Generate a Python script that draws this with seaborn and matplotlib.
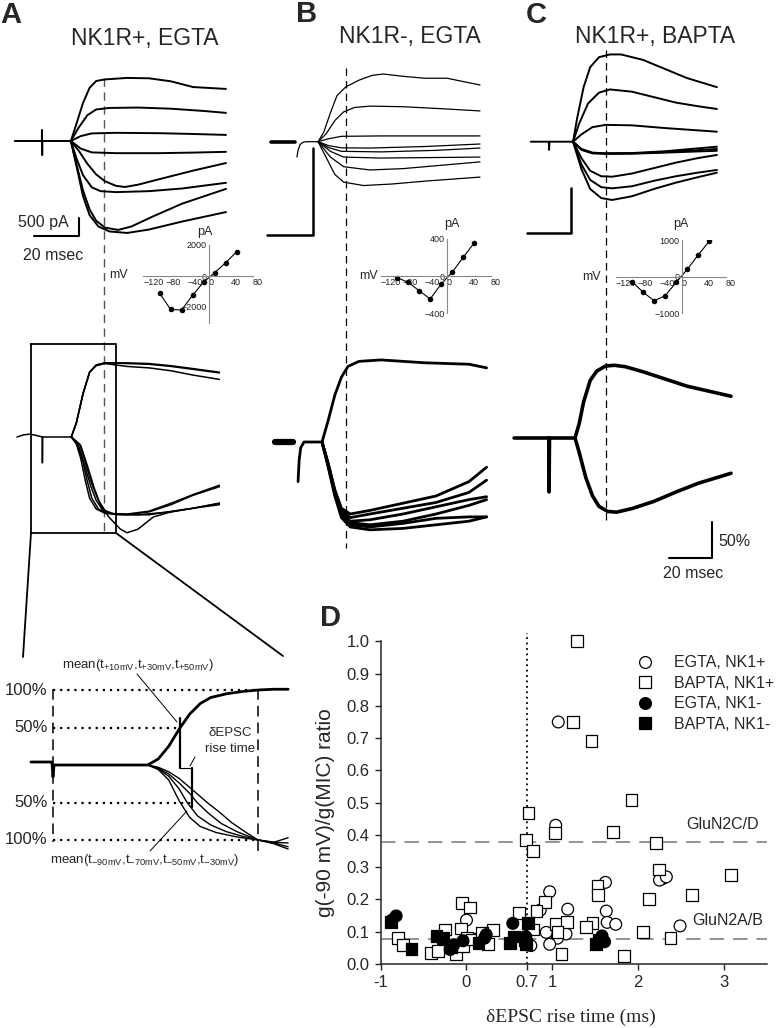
import matplotlib.pyplot as plt
import pandas as pd
import seaborn as sns
from matplotlib.lines import Line2D

W, H = 780, 1028
MS = 2.2  # px per ms in the trace panels

# ---------------- A: NK1R+, EGTA (pA) ----------------
a_top_traces = [
    [(-1, 0), (11.3, 0), (11.35, 290), (11.45, -370), (11.5, 0), (24.5, 0)],
    [(24.5, 0), (27, 450), (30, 1000), (33, 1400), (36, 1580), (40, 1620), (50, 1660), (60, 1650), (70, 1570), (80, 1420), (95, 1370)],
    [(24.5, 0), (28, 350), (32, 680), (36, 830), (42, 870), (55, 880), (70, 850), (85, 790), (95, 740)],
    [(24.5, 0), (29, 130), (34, 200), (45, 215), (65, 205), (80, 185), (95, 160)],
    [(24.5, 0), (29, -200), (34, -300), (45, -320), (65, -320), (80, -305), (95, -285)],
    [(24.5, 0), (28, -250), (32, -600), (36, -880), (40, -1060), (45, -1180), (49, -1210), (55, -1150), (65, -1000), (80, -780), (95, -580)],
    [(24.5, 0), (27, -450), (30, -900), (34, -1220), (38, -1320), (45, -1345), (60, -1320), (75, -1250), (95, -1100)],
    [(24.5, 0), (27, -600), (30, -1300), (33, -1800), (36, -2100), (40, -2280), (46, -2340), (52, -2250), (62, -1980), (75, -1650), (95, -1260)],
    [(24.5, 0), (27, -650), (30, -1450), (33, -1950), (37, -2250), (42, -2380), (50, -2420), (60, -2330), (75, -2120), (95, -1870)],
]
a_mid_traces = [
    [(0, 0), (3, 3), (6, 4), (9, 2), (11.5, 0), (11.55, -36), (11.65, 0), (24.7, 0)],
    [(24.7, 0), (27, 20), (30, 60), (33, 90), (36, 100), (40, 103), (50, 103), (60, 102), (70, 99), (80, 95), (92, 90)],
    [(24.7, 0), (27, 20), (30, 60), (33, 90), (36, 100), (40, 103), (50, 102), (60, 101), (70, 98), (80, 94), (92, 89)],
    [(24.7, 0), (27, 20), (30, 60), (33, 90), (36, 99), (40, 102), (50, 98), (60, 96), (70, 92), (80, 86), (92, 80)],
    [(24.7, 0), (27, -10), (29, -30), (31, -60), (33, -85), (36, -100), (40, -106), (50, -107), (60, -103), (70, -92), (80, -80), (92, -67)],
    [(24.7, 0), (27.5, -10), (30, -35), (32, -62), (34, -85), (37, -100), (41, -106), (50, -108), (60, -104), (70, -94), (80, -81), (92, -69)],
    [(24.7, 0), (28, -12), (31, -42), (33.5, -68), (36, -88), (39, -102), (43, -107), (55, -108), (70, -104), (80, -99), (92, -92)],
    [(24.7, 0), (28.5, -10), (31.5, -40), (34, -65), (37, -88), (40, -102), (45, -108), (60, -108), (75, -101), (92, -94)],
    [(24.7, 0), (29, -12), (32, -40), (35, -70), (38, -95), (42, -112), (47, -128), (50, -133), (55, -128), (62, -111), (70, -104), (80, -99), (92, -92)],
]
a_iv_mv = [-90, -70, -50, -30, -10, 10, 30, 50]
a_iv_pa = [-1100, -2150, -2200, -1250, -400, 200, 850, 1550]

# ---------------- B: NK1R-, EGTA ----------------
b_top_pre = [[(0, 0), (10.9, 0)]]
b_top_traces = [
    [(11.8, -80), (12.3, -45), (13.2, -15), (14.5, -3), (16, 0), (21.4, 0)],
    [(21.4, 0), (24, 50), (27, 150), (30, 240), (34, 285), (40, 320), (46, 345), (51, 352), (60, 340), (70, 330), (80, 330), (95, 295)],
    [(21.4, 0), (25, 40), (29, 110), (33, 155), (38, 178), (45, 185), (60, 182), (80, 170), (95, 160)],
    [(21.4, 0), (26, 15), (32, 28), (50, 30), (95, 30)],
    [(21.4, 0), (26, -20), (32, -32), (45, -33), (70, -25), (95, -12)],
    [(21.4, 0), (26, -30), (32, -50), (50, -53), (75, -45), (95, -33)],
    [(21.4, 0), (27, -50), (33, -80), (50, -85), (95, -80)],
    [(21.4, 0), (27, -80), (33, -130), (45, -147), (60, -140), (80, -120), (95, -105)],
    [(21.4, 0), (25, -80), (29, -170), (33, -210), (42, -228), (55, -220), (70, -205), (95, -184)],
]
b_mid_pre = [[(1.8, 0), (10, 0)]]
b_mid_traces = [
    [(12.3, -55), (12.8, -25), (13.5, -8), (15, 0), (23.2, 0)],
    [(23.2, 0), (26, 30), (29, 65), (32, 90), (35, 105), (40, 112), (50, 114), (60, 112), (70, 110), (80, 109), (90, 108), (98, 103)],
    [(23.2, 0), (26, -35), (29, -75), (32, -105), (36, -118), (45, -122), (60, -120), (75, -115), (90, -110), (98, -104)],
    [(23.2, 0), (26, -33), (29, -72), (32, -100), (36, -115), (45, -118), (60, -113), (75, -106), (90, -104), (98, -104)],
    [(23.2, 0), (26, -32), (29, -70), (32, -98), (36, -110), (45, -108), (60, -100), (75, -90), (90, -80), (98, -76)],
    [(23.2, 0), (26, -30), (29, -68), (32, -95), (36, -105), (45, -100), (60, -92), (75, -84), (90, -70), (98, -53)],
    [(23.2, 0), (26, -30), (29, -66), (32, -92), (36, -100), (45, -95), (60, -85), (75, -75), (90, -55), (98, -35)],
    [(23.2, 0), (26, -32), (29, -70), (32, -98), (36, -112), (45, -115), (60, -110), (75, -100), (90, -88), (98, -80)],
]
b_iv_mv = [-90, -70, -50, -30, -10, 10, 30, 50]
b_iv_pa = [-18, -67, -157, -245, -85, 40, 200, 352]

# ---------------- C: NK1R+, BAPTA ----------------
c_top_traces = [
    [(-1, 0), (7.2, 0), (7.3, -90), (7.5, 0), (18.2, 0)],
    [(18.2, 0), (20, 250), (23, 600), (26, 820), (30, 930), (35, 960), (40, 960), (50, 900), (60, 800), (70, 700), (83.6, 600)],
    [(18.2, 0), (21, 200), (25, 420), (30, 540), (35, 575), (45, 550), (55, 490), (65, 430), (75, 390), (83.6, 360)],
    [(18.2, 0), (22, 80), (27, 160), (33, 185), (45, 180), (60, 150), (83.6, 110)],
    [(18.2, 0), (22, -80), (27, -120), (33, -128), (45, -125), (60, -105), (83.6, -55)],
    [(18.2, 0), (22, -85), (27, -125), (33, -130), (45, -128), (60, -115), (83.6, -80)],
    [(18.2, 0), (22, -90), (27, -128), (33, -133), (45, -132), (60, -120), (83.6, -100)],
    [(18.2, 0), (22, -180), (26, -320), (31, -380), (36, -385), (45, -350), (55, -290), (65, -230), (75, -180), (83.6, -146)],
    [(18.2, 0), (22, -250), (26, -420), (31, -500), (36, -513), (45, -490), (55, -430), (65, -380), (75, -340), (83.6, -311)],
    [(18.2, 0), (22, -300), (26, -520), (31, -620), (36, -641), (45, -600), (55, -520), (65, -450), (75, -390), (83.6, -341)],
]
c_mid_traces = [
    [(-8.6, 0), (7.2, 0), (7.3, -75), (7.5, 0), (19.1, 0)],
    [(19.1, 0), (21, 20), (23, 50), (26, 80), (29, 93), (33, 100), (37, 101), (42, 99), (50, 92), (60, 82), (70, 72), (80, 65), (90, 58)],
    [(19.1, 0), (21, -20), (24, -55), (27, -80), (30, -95), (34, -102), (38, -103), (45, -98), (55, -88), (65, -75), (75, -63), (90, -49)],
]
c_iv_mv = [-90, -70, -50, -30, -10, 10, 30, 50]
c_iv_pa = [-137, -428, -657, -520, -155, 200, 595, 970]

# ---------------- zoomed schematic (%) ----------------
sch_up = [[(-4.2, 4), (-0.2, 4), (0, -16), (0.2, 0), (18, 0), (20, 8), (22, 25), (24, 48), (26, 68), (28, 82), (30, 90), (33, 95), (36, 98), (39, 100), (42, 101), (44.7, 101)]]
sch_down = [
    [(0.2, 0), (18, 0), (20, -6), (22, -20), (24, -48), (26, -70), (28, -82), (31, -90), (35, -96), (39, -100), (42, -103), (44.7, -97)],
    [(18, 0), (20, -5), (22, -15), (24, -32), (25.5, -50), (27.5, -68), (30, -80), (33, -89), (36, -95), (39, -100), (42, -103), (44.7, -104)],
    [(18, 0), (20, -4), (22, -12), (24, -24), (26, -38), (27.4, -50), (29.5, -64), (32, -78), (35, -89), (39, -100), (42, -104), (44.7, -109)],
    [(18, 0), (20, -3), (22, -9), (24, -18), (26, -30), (28, -42), (29.3, -50), (31.5, -62), (34, -77), (36.5, -89), (39, -100), (42, -105), (44.7, -112)],
]

# ---------------- D: scatter ----------------
egta_pos_rise = [1.07, 1.04, 2.29, 2.25, 2.33, 1.62, 0.97, 1.18, 1.63, 0.86, 2.49, 1.64, 1.74, 0.93, 1.16, 1.06, 0.97, 0.75, 0.00, 0.12]
egta_pos_ratio = [0.75, 0.43, 0.265, 0.26, 0.27, 0.253, 0.224, 0.17, 0.164, 0.167, 0.118, 0.129, 0.123, 0.098, 0.093, 0.08, 0.061, 0.057, 0.136, 0.077]
bapta_pos_rise = [1.29, 1.245, 1.458, 1.924, 0.724, 1.031, 1.711, 0.693, 2.208, 0.779, 2.247, 3.082, 1.528, 1.536, 2.627,
                  2.130, -0.049, 0.041, 0.915, 0.612, 0.817, 0.779, 1.043, 1.175, 1.470, 1.392, 1.062, 2.060, 2.379, 1.839,
                  1.109, -0.250, 0.305, -0.068, 0.002, -0.794, -0.744, -0.414, -0.336, -0.122, -0.045, 0.06, 0.254, 0.177]
bapta_pos_ratio = [1.0, 0.75, 0.69, 0.508, 0.467, 0.407, 0.408, 0.384, 0.376, 0.351, 0.293, 0.276, 0.242, 0.214, 0.214,
                   0.201, 0.188, 0.175, 0.193, 0.159, 0.165, 0.107, 0.124, 0.130, 0.126, 0.114, 0.098, 0.098, 0.080, 0.026,
                   0.031, 0.107, 0.105, 0.110, 0.080, 0.080, 0.059, 0.033, 0.041, 0.031, 0.056, 0.076, 0.062, 0.095]
egta_neg_rise = [-0.82, -0.87, 0.23, 0.21, 0.54, 0.69, -0.04, -0.15, -0.19, 1.58, 1.61, 1.56]
egta_neg_ratio = [0.149, 0.136, 0.091, 0.080, 0.126, 0.085, 0.072, 0.059, 0.045, 0.087, 0.069, 0.074]
bapta_neg_rise = [-0.88, -0.64, -0.35, -0.27, -0.18, 0.14, 0.51, 0.55, 0.72, 0.68, 0.69, 1.51, 1.54]
bapta_neg_ratio = [0.131, 0.046, 0.087, 0.080, 0.051, 0.064, 0.066, 0.085, 0.126, 0.074, 0.062, 0.062, 0.074]
groups = ["EGTA, NK1+", "BAPTA, NK1+", "EGTA, NK1-", "BAPTA, NK1-"]
x_ticks = [-1, 0, 0.7, 1, 2, 3]
y_ticks = [0.0, 0.1, 0.2, 0.3, 0.4, 0.5, 0.6, 0.7, 0.8, 0.9, 1.0]
glun_2cd, glun_2ab, rise_cut = 0.378, 0.078, 0.7

sns.set_style("ticks")
plt.rcParams["font.family"] = ["Liberation Sans", "DejaVu Sans"]

fig = plt.figure(figsize=(W / 100, H / 100), dpi=100)
ov = fig.add_axes([0, 0, 1, 1])
ov.set_xlim(0, W)
ov.set_ylim(H, 0)
ov.axis("off")


def px_axes(x0, x1, y0, y1):
    return fig.add_axes([x0 / W, 1 - y1 / H, (x1 - x0) / W, (y1 - y0) / H])


def trace_axes(x_origin, t_lim, y_base, px_per_unit, v_lim, px_per_ms=MS):
    ax = px_axes(x_origin + px_per_ms * t_lim[0], x_origin + px_per_ms * t_lim[1],
                 y_base - px_per_unit * v_lim[1], y_base - px_per_unit * v_lim[0])
    ax.set_xlim(t_lim)
    ax.set_ylim(v_lim)
    ax.axis("off")
    return ax


def long_df(traces):
    rows = [(i, t, v) for i, tr in enumerate(traces) for t, v in tr]
    return pd.DataFrame(rows, columns=["trace", "t", "v"])


def draw_traces(ax, traces, lw):
    sns.lineplot(data=long_df(traces), x="t", y="v", units="trace", estimator=None, sort=False,
                 color="black", lw=lw, ax=ax, legend=False)


def iv_axes(x_zero, y_zero, px_per_pa, pa_lim, mv, pa, yt):
    ax = px_axes(x_zero - 0.55 * 120, x_zero + 0.55 * 80, y_zero - px_per_pa * pa_lim[1], y_zero - px_per_pa * pa_lim[0])
    ax.set_facecolor("none")
    sns.lineplot(x=mv, y=pa, color="black", lw=0.8, marker="o", markersize=4, markeredgewidth=0, ax=ax)
    ax.set_xlim(-120, 80)
    ax.set_ylim(pa_lim)
    for side in ["top", "right"]:
        ax.spines[side].set_visible(False)
    for side in ["left", "bottom"]:
        ax.spines[side].set_position(("data", 0))
        ax.spines[side].set_color("#888888")
        ax.spines[side].set_linewidth(0.8)
    ax.set_xticks([-120, -80, -40, 0, 40, 80])
    ax.set_yticks(yt)
    ax.tick_params(length=0, labelsize=6.5, pad=1.5, colors="#222222")
    for lab in ax.get_xticklabels():
        lab.set_horizontalalignment("left")
    ax.set_xlabel("")
    ax.set_ylabel("")
    return ax


# ---- trace panels ----
ax = trace_axes(17, (-2, 100), 141, 0.038, (-2700, 2300))
draw_traces(ax, a_top_traces, 1.4)
ax = trace_axes(17, (-2, 100), 437, 0.72, (-150, 120))
draw_traces(ax, a_mid_traces, 1.1)

ax = trace_axes(271, (-2, 100), 141.7, 0.1923, (-300, 400))
draw_traces(ax, b_top_pre, 2.6)
draw_traces(ax, b_top_traces, 0.9)
ax = trace_axes(271, (-2, 100), 442, 0.72, (-150, 130))
draw_traces(ax, b_mid_pre, 4.5)
draw_traces(ax, b_mid_traces, 2.0)

ax = trace_axes(533, (-10, 100), 141.7, 0.0909, (-800, 1100))
draw_traces(ax, c_top_traces, 1.4)
ax = trace_axes(533, (-10, 100), 438, 0.72, (-120, 120))
draw_traces(ax, c_mid_traces, 2.6)

iv_axes(209, 276, 0.0155, (-3000, 2000), a_iv_mv, a_iv_pa, [-2000, 0, 2000])
iv_axes(446.7, 276, 0.09375, (-400, 400), b_iv_mv, b_iv_pa, [-400, 0, 400])
iv_axes(681.7, 276.7, 0.0365, (-1000, 1000), c_iv_mv, c_iv_pa, [-1000, 0, 1000])
for x, y in [(118, 275), (368, 276), (591, 277)]:
    ov.text(x, y, "mV", ha="center", va="center", fontsize=9)
for x, y in [(205, 232), (452, 224), (681, 224)]:
    ov.text(x, y, "pA", ha="center", va="center", fontsize=9)

# ---- zoomed schematic ----
sx = trace_axes(53, (-6, 46), 765, 0.75, (-125, 112), px_per_ms=5.26)
draw_traces(sx, sch_up, 2.0)
draw_traces(sx, sch_down, 1.0)
for lvl, t_end in [(100, 39), (50, 24.1), (-50, 26.4), (-100, 39)]:
    sx.plot([0, t_end], [lvl, lvl], color="black", ls=(0, (1, 2.2)), lw=1.6, clip_on=False)
sx.plot([0, 0], [101, -103], color="black", ls=(0, (7, 4)), lw=1.1, clip_on=False)
sx.plot([39, 39], [102, -123], color="black", ls=(0, (7, 4)), lw=1.1, clip_on=False)
sx.plot([24.1, 24.1], [63, -4], color="black", lw=1.6, clip_on=False)
sx.plot([26.4, 26.4], [-4, -56], color="black", lw=1.6, clip_on=False)
sx.plot([24.1, 26.4], [-4, -4], color="black", lw=0.8, clip_on=False)
for lvl, lab in [(100, "100%"), (50, "50%"), (-50, "50%"), (-100, "100%")]:
    sx.text(-1, lvl, lab, ha="right", va="center", fontsize=12)

sub = lambda s: r"t$_{\mathregular{%s}}$" % s
ov.text(138, 665, "mean(" + ",".join(sub(s) for s in ["+10mV", "+30mV", "+50mV"]) + ")",
        ha="center", va="center", fontsize=9.5)
ov.text(145, 860, "mean(" + ",".join(sub(s) for s in ["-90mV", "-70mV", "-50mV", "-30mV"]) + ")",
        ha="center", va="center", fontsize=9.5)
ov.plot([137, 177], [674, 722], color="black", lw=0.7)
ov.plot([150, 187], [851, 811], color="black", lw=0.7)
ov.text(230, 733, "\u03b4EPSC", ha="center", va="center", fontsize=9.5)
ov.text(230, 749, "rise time", ha="center", va="center", fontsize=9.5)
ov.plot([195, 190], [757, 766], color="black", lw=0.7)

# ---- guides, scale bars, zoom box ----
dash = (0, (6, 4))
ov.plot([104, 104], [78, 533], color="#555555", lw=1.0, ls=dash)
ov.plot([346, 346], [68, 548], color="black", lw=0.9, ls=dash)
ov.plot([606, 606], [50, 523], color="black", lw=0.9, ls=dash)
ov.plot([34, 79, 79], [236, 236, 218], color="black", lw=1.5)
ov.plot([267, 313, 313], [235, 235, 148], color="black", lw=1.8)
ov.plot([527, 571, 571], [233, 233, 188], color="black", lw=1.8)
ov.plot([669, 712, 712], [558, 558, 522], color="black", lw=1.5)
ov.plot([31, 116, 116, 31, 31], [344, 344, 533, 533, 344], color="black", lw=1.3)
ov.plot([31, 23], [533, 657], color="black", lw=1.3)
ov.plot([116, 283], [533, 656], color="black", lw=1.3)
ov.text(43, 222, "500 pA", ha="center", va="center", fontsize=11.5)
ov.text(53, 255, "20 msec", ha="center", va="center", fontsize=11.5)
ov.text(718, 542, "50%", ha="left", va="center", fontsize=11.5)
ov.text(693, 574, "20 msec", ha="center", va="center", fontsize=11.5)

for x, y, lab in [(11, 15, "A"), (307, 14, "B"), (536, 15, "C"), (331, 618, "D")]:
    ov.text(x, y, lab, ha="center", va="center", fontsize=21, fontweight="bold")
for x, y, lab in [(145, 38, "NK1R+, EGTA"), (410, 37, "NK1R-, EGTA"), (655, 36, "NK1R+, BAPTA")]:
    ov.text(x, y, lab, ha="center", va="center", fontsize=16.5)

# ---- D ----
d_df = pd.concat([
    pd.DataFrame({"rise": egta_pos_rise, "ratio": egta_pos_ratio, "group": groups[0]}),
    pd.DataFrame({"rise": bapta_pos_rise, "ratio": bapta_pos_ratio, "group": groups[1]}),
    pd.DataFrame({"rise": egta_neg_rise, "ratio": egta_neg_ratio, "group": groups[2]}),
    pd.DataFrame({"rise": bapta_neg_rise, "ratio": bapta_neg_ratio, "group": groups[3]}),
], ignore_index=True)
palette = dict(zip(groups, ["white", "white", "black", "black"]))
markers = dict(zip(groups, ["o", "s", "o", "s"]))

axd = px_axes(380.7, 766.7, 641.3, 964)
axd.set_facecolor("none")
axd.axhline(glun_2cd, color="#8a8a8a", lw=1.3, ls=(0, (8, 5)), zorder=1)
axd.axhline(glun_2ab, color="#8a8a8a", lw=1.3, ls=(0, (8, 5)), zorder=1)
axd.plot([rise_cut, rise_cut], [0, 1.025], color="black", lw=1.3, ls=(0, (1, 2)), clip_on=False, zorder=1)
sns.scatterplot(data=d_df, x="rise", y="ratio", hue="group", style="group", palette=palette, markers=markers,
                s=72, edgecolor="black", linewidth=0.9, ax=axd, legend=False, clip_on=False, zorder=3)
axd.set_xlim(-1, 3.5)
axd.set_ylim(0, 1.0)
axd.set_xticks(x_ticks)
axd.set_xticklabels(["-1", "0", "0.7", "1", "2", "3"])
axd.set_yticks(y_ticks)
axd.set_yticklabels([f"{v:.1f}" for v in y_ticks])
axd.tick_params(direction="out", length=4, width=1, labelsize=12, pad=4)
sns.despine(ax=axd)
axd.spines["left"].set_linewidth(1.1)
axd.spines["bottom"].set_linewidth(1.1)
axd.set_xlabel("")
axd.set_ylabel("")
axd.text(0.493, -0.164, "\u03b4EPSC rise time (ms)", transform=axd.transAxes, ha="center", va="center",
         fontsize=14, family=["Liberation Serif", "DejaVu Serif"])
axd.text(-0.144, 0.47, "g(-90 mV)/g(MIC) ratio", transform=axd.transAxes, ha="center", va="center",
         rotation=90, fontsize=15)
axd.text(2.99, 0.431, "GluN2C/D", ha="center", va="center", fontsize=11.5)
axd.text(3.04, 0.136, "GluN2A/B", ha="center", va="center", fontsize=11.5)

handles = [Line2D([], [], ls="", marker=markers[g], markersize=8.5, markerfacecolor=palette[g],
                  markeredgecolor="black", markeredgewidth=0.9) for g in groups]
axd.legend(handles, groups, loc="upper left", bbox_to_anchor=(0.665, 0.957), frameon=False, fontsize=11.5,
           handlelength=1.0, handletextpad=1.3, labelspacing=0.35, borderpad=0, borderaxespad=0)

fig.savefig("out.png", dpi=100)
